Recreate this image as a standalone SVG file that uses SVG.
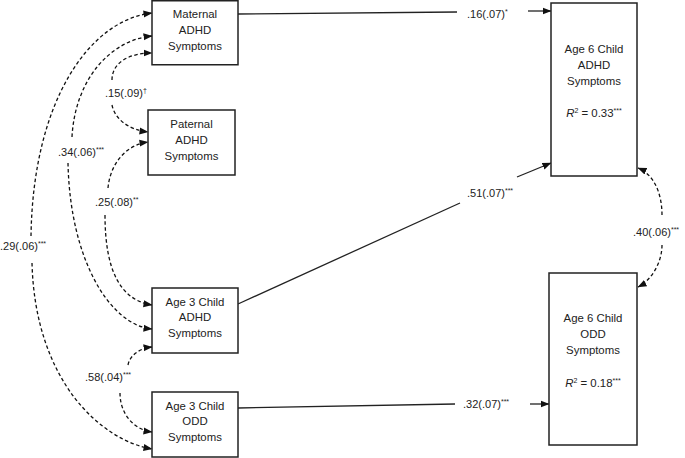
<svg xmlns="http://www.w3.org/2000/svg" width="685" height="458" viewBox="0 0 685 458">
<style>
text{font-family:"Liberation Sans",Arial,sans-serif;font-size:11px;fill:#222}
.c{text-anchor:middle;font-size:11.4px}
.box{fill:#fff;stroke:#222;stroke-width:1.5}
.sol{fill:none;stroke:#222;stroke-width:1.3}
.dash{fill:none;stroke:#111;stroke-width:1.3;stroke-dasharray:3.5 2.5}
.sup{font-size:7px}
</style>
<defs>
<marker id="ah" markerWidth="9" markerHeight="8" refX="8.5" refY="4" orient="auto" markerUnits="userSpaceOnUse">
<path d="M0,0.5 L9,4 L0,7.5 Z" fill="#111"/>
</marker>
</defs>
<g id="connectors">
<path class="sol" d="M238,14 L457,12"/>
<path class="sol" d="M528,11 L551,11" marker-end="url(#ah)"/>
<path class="sol" d="M238,304 L460,203"/>
<path class="sol" d="M517,177 L551,163" marker-end="url(#ah)"/>
<path class="sol" d="M238,408 L455,404"/>
<path class="sol" d="M530,404 L549,404" marker-end="url(#ah)"/>
<path class="dash" d="M112,80 C112,62 130,53 152,53" marker-end="url(#ah)"/>
<path class="dash" d="M112,105 C115,120 130,130 148,132" marker-end="url(#ah)"/>
<path class="dash" d="M72,137 C75,80 110,40 152,36" marker-end="url(#ah)"/>
<path class="dash" d="M68,163 C70,260 110,325 152,329" marker-end="url(#ah)"/>
<path class="dash" d="M108,188 C110,165 125,145 148,142" marker-end="url(#ah)"/>
<path class="dash" d="M105,215 C105,270 120,300 152,305" marker-end="url(#ah)"/>
<path class="dash" d="M31,236 C33,100 90,20 152,13" marker-end="url(#ah)"/>
<path class="dash" d="M32,263 C35,380 100,440 152,449" marker-end="url(#ah)"/>
<path class="dash" d="M128,365 C130,355 140,348 152,347" marker-end="url(#ah)"/>
<path class="dash" d="M120,393 C120,415 135,430 152,432" marker-end="url(#ah)"/>
<path class="dash" d="M662,215 C662,195 655,175 638,168" marker-end="url(#ah)"/>
<path class="dash" d="M662,245 C662,262 652,280 638,287" marker-end="url(#ah)"/>
</g>
<g id="labels">
<text x="467" y="18">.16(.07)<tspan class="sup" dy="-4">*</tspan></text>
<text x="467" y="197">.51(.07)<tspan class="sup" dy="-4">***</tspan></text>
<text x="463" y="408">.32(.07)<tspan class="sup" dy="-4">***</tspan></text>
<text x="633" y="236">.40(.06)<tspan class="sup" dy="-4">***</tspan></text>
<text x="105" y="97">.15(.09)<tspan class="sup" dy="-4">†</tspan></text>
<text x="58" y="156">.34(.06)<tspan class="sup" dy="-4">***</tspan></text>
<text x="95" y="206">.25(.08)<tspan class="sup" dy="-4">**</tspan></text>
<text x="0" y="250">.29(.06)<tspan class="sup" dy="-4">***</tspan></text>
<text x="85" y="381">.58(.04)<tspan class="sup" dy="-4">***</tspan></text>
</g>
<g id="maternal">
<rect class="box" x="152" y="0.75" width="86" height="64"/>
<text class="c" x="195" y="18">Maternal</text>
<text class="c" x="195" y="34">ADHD</text>
<text class="c" x="195" y="50">Symptoms</text>
</g>
<g id="paternal">
<rect class="box" x="148" y="110" width="87" height="65"/>
<text class="c" x="191.5" y="128">Paternal</text>
<text class="c" x="191.5" y="144">ADHD</text>
<text class="c" x="191.5" y="160">Symptoms</text>
</g>
<g id="age3adhd">
<rect class="box" x="152" y="288" width="86" height="65"/>
<text class="c" x="195" y="306">Age 3 Child</text>
<text class="c" x="195" y="321">ADHD</text>
<text class="c" x="195" y="337">Symptoms</text>
</g>
<g id="age3odd">
<rect class="box" x="152" y="392" width="86" height="65"/>
<text class="c" x="195" y="410">Age 3 Child</text>
<text class="c" x="195" y="425">ODD</text>
<text class="c" x="195" y="441">Symptoms</text>
</g>
<g id="age6adhd">
<rect class="box" x="551" y="3" width="86" height="173"/>
<text class="c" x="594" y="53">Age 6 Child</text>
<text class="c" x="594" y="69">ADHD</text>
<text class="c" x="594" y="85">Symptoms</text>
<text class="c" x="594" y="117"><tspan font-style="italic">R</tspan><tspan class="sup" dy="-4">2</tspan><tspan dy="4"> = 0.33</tspan><tspan class="sup" dy="-4">***</tspan></text>
</g>
<g id="age6odd">
<rect class="box" x="549" y="273" width="88" height="172"/>
<text class="c" x="593" y="322">Age 6 Child</text>
<text class="c" x="593" y="338">ODD</text>
<text class="c" x="593" y="354">Symptoms</text>
<text class="c" x="593" y="387"><tspan font-style="italic">R</tspan><tspan class="sup" dy="-4">2</tspan><tspan dy="4"> = 0.18</tspan><tspan class="sup" dy="-4">***</tspan></text>
</g>
</svg>
